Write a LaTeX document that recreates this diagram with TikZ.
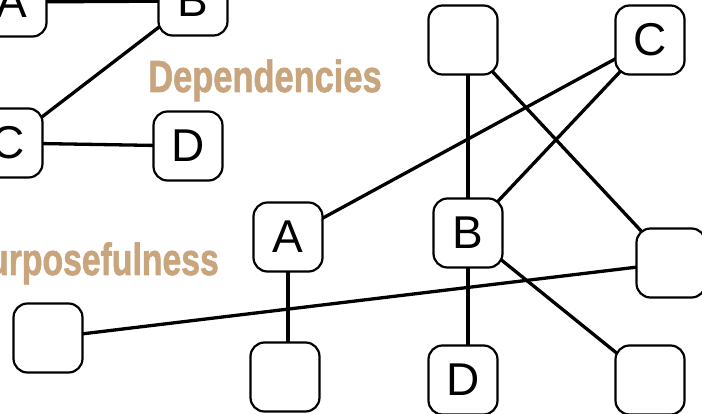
\documentclass[tikz,border=0pt]{standalone}
\usepackage{fontspec}
\setmainfont{Liberation Sans}
\newfontfamily\bannerfont[FakeBold=1.6]{Liberation Sans}
\usepackage{tikz}
\usetikzlibrary{backgrounds}
\definecolor{tan}{RGB}{200,165,125}

\begin{document}
\begin{tikzpicture}[
  x=1pt, y=-1pt,
  box/.style={rectangle, rounded corners=14pt, draw=black, fill=white, line width=2.2pt,
              minimum width=69pt, minimum height=69pt, inner sep=0pt,
              font=\fontsize{46}{46}\selectfont},
  link/.style={line width=3.3pt, black},
  banner/.style={text=tan, inner sep=0pt, font=\bannerfont\bfseries\fontsize{45}{45}\selectfont},
]
  \useasboundingbox (0,0) rectangle (702,414);
  \clip (0,0) rectangle (702,414);

  % small graph, top left
  \node[box] (dA) at (12,2) {A};
  \node[box] (dB) at (193,1) {B};
  \node[box] (dC) at (8,143) {C};
  \node[box] (dD) at (188,146) {D};

  % big graph
  \node[box] (nA) at (288,237) {A};
  \node[box] (nB) at (468,233) {B};
  \node[box] (nC) at (650,40) {C};
  \node[box] (nD) at (463,380) {D};
  \node[box] (top) at (463,40) {};
  \node[box] (right) at (671,263) {};
  \node[box] (corner) at (650,380) {};
  \node[box] (left) at (48,338) {};
  \node[box] (under) at (285,377) {};

  % labels
  \node[banner, anchor=base] (dep) at (265,92) {\scalebox{0.765}[1]{Dependencies}};
  \node[banner, anchor=base east] (purp) at (219,275) {\scalebox{0.75}[1]{Purposefulness}};

  \begin{scope}[on background layer]
    \foreach \from/\to in {dA/dB, dB/dC, dC/dD}
      \draw[link] (\from.center) -- (\to.center);
    \foreach \from/\to in {top/right, nC/nA, nC/nB, nB/corner, left/right}
      \draw[link] (\from.center) -- (\to.center);
    % straight drops
    \foreach \from/\to in {nB/top, nB/nD, nA/under}
      \draw[link] (\from.center) -- (\from.center |- \to.center);
  \end{scope}
\end{tikzpicture}
\end{document}
